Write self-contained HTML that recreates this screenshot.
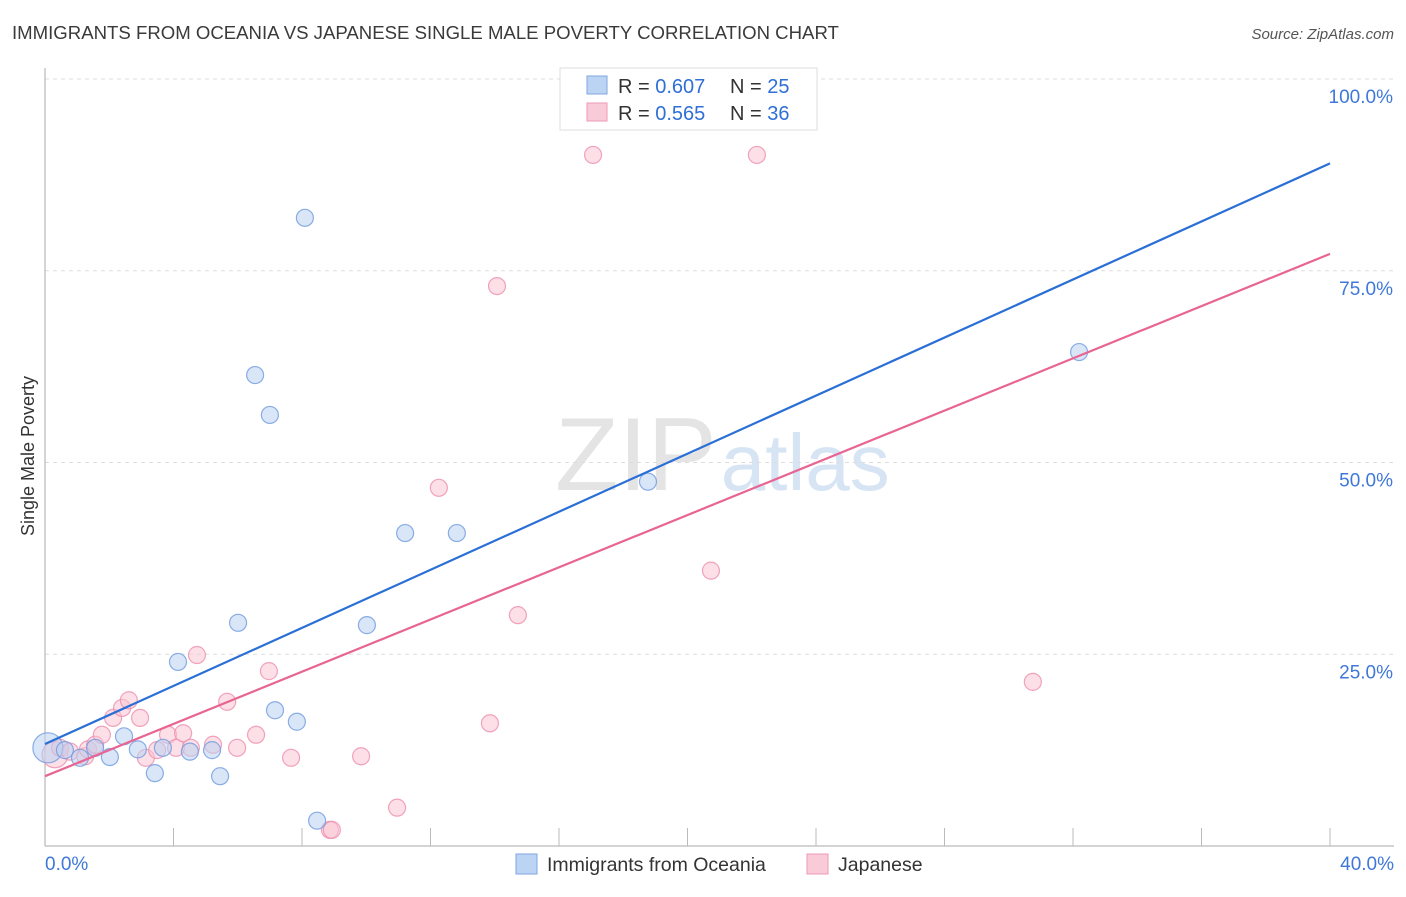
<!DOCTYPE html>
<html><head><meta charset="utf-8"><style>
body{margin:0;background:#fff;font-family:"Liberation Sans",sans-serif;}
svg text{font-family:"Liberation Sans",sans-serif;}
</style></head><body>
<svg id="chart" width="1406" height="892" viewBox="0 0 1406 892">
<text x="12" y="39" font-size="18.6" fill="#3a3a3a">IMMIGRANTS FROM OCEANIA VS JAPANESE SINGLE MALE POVERTY CORRELATION CHART</text>
<text x="1394" y="39" font-size="15" fill="#555" text-anchor="end" font-style="italic">Source: ZipAtlas.com</text>
<text x="555" y="490" font-size="104" fill="#e4e4e4" font-family="Liberation Serif"><tspan>ZIP</tspan><tspan fill="#d6e4f4" font-family="Liberation Sans" font-size="80" dx="4">atlas</tspan></text>
<g id="grid"></g>
<g id="axes"></g>
<g id="marks"></g>
<text transform="translate(34,456) rotate(-90)" font-size="18" fill="#333" text-anchor="middle">Single Male Poverty</text>
<g>
<rect x="560" y="68" width="257" height="62" fill="#fff" stroke="#ddd"/>
<rect x="587" y="76" width="20" height="18" fill="#bcd4f4" stroke="#7fa6e0"/>
<rect x="587" y="103" width="20" height="18" fill="#f9cbd8" stroke="#ee9ab4"/>
<text x="618" y="93" font-size="20" fill="#333">R = <tspan fill="#2f6fd6">0.607</tspan></text>
<text x="730" y="93" font-size="20" fill="#333">N = <tspan fill="#2f6fd6">25</tspan></text>
<text x="618" y="120" font-size="20" fill="#333">R = <tspan fill="#2f6fd6">0.565</tspan></text>
<text x="730" y="120" font-size="20" fill="#333">N = <tspan fill="#2f6fd6">36</tspan></text>
</g>
<g>
<rect x="516" y="854" width="21" height="20" fill="#bcd4f4" stroke="#7fa6e0"/>
<text x="547" y="871" font-size="19.5" fill="#333">Immigrants from Oceania</text>
<rect x="807" y="854" width="21" height="20" fill="#f9cbd8" stroke="#ee9ab4"/>
<text x="838" y="871" font-size="19.5" fill="#333">Japanese</text>
</g>
</svg>
<script>
const blueX=[0.09,0.62,1.09,1.56,2.02,2.46,2.89,3.42,3.67,4.14,4.51,5.20,5.45,6.01,6.54,7.00,7.16,7.84,8.09,8.47,10.02,11.21,12.82,18.77,32.19];
const blueY=[12.8,12.5,11.5,12.8,11.6,14.3,12.6,9.5,12.8,24.0,12.3,12.5,9.1,29.1,61.4,56.2,17.7,16.2,81.9,3.3,28.8,40.8,40.8,47.5,64.4];
const pinkX=[0.31,0.47,0.78,1.25,1.34,1.56,1.77,2.12,2.40,2.61,2.96,3.14,3.49,3.83,4.08,4.30,4.54,4.73,5.23,5.67,5.98,6.57,6.97,7.66,8.87,8.93,9.84,10.96,12.26,13.85,14.07,14.72,17.06,20.73,22.16,30.75];
const pinkY=[11.9,12.8,12.3,11.7,12.6,13.2,14.5,16.7,18.0,19.0,16.7,11.5,12.5,14.5,12.8,14.7,12.8,24.9,13.2,18.8,12.8,14.5,22.8,11.5,2.1,2.1,11.7,5.0,46.7,16.0,73.0,30.1,90.1,35.9,90.1,21.4];
const blueLine=[13.3,89.0];
const pinkLine=[9.1,77.2];
const yTicks=[25,50,75,100];
const yTickLabels=["25.0%","50.0%","75.0%","100.0%"];
const xMax=40;
const NS="http://www.w3.org/2000/svg";
const X0=45,X1=1330,Y0=846,Y1=79;
function sx(v){return X0+(v/xMax)*(X1-X0);}
function sy(v){return Y0-(v/100)*(Y0-Y1);}
function mk(tag,attrs,parent){const e=document.createElementNS(NS,tag);for(const k in attrs)e.setAttribute(k,attrs[k]);parent.appendChild(e);return e;}
const grid=document.getElementById('grid'),axes=document.getElementById('axes'),marks=document.getElementById('marks');
yTicks.forEach((t,i)=>{
 const l=mk('line',{x1:X0,x2:1394,y1:sy(t),y2:sy(t),stroke:'#ddd','stroke-dasharray':'4,4'},grid);
 
 
 const tx=mk('text',{x:1393,y:sy(t)+24,'font-size':19,fill:'#3f78d8','text-anchor':'end'},axes);
 tx.textContent=yTickLabels[i];
 
 
});
const xa=mk('line',{x1:X0,x2:1394,y1:Y0,y2:Y0,stroke:'#aaa'},axes);


const ya=mk('line',{x1:X0,x2:X0,y1:68,y2:Y0,stroke:'#aaa'},axes);


for(let i=1;i<=10;i++){
 const tk=mk('line',{x1:sx(i*4),x2:sx(i*4),y1:Y0-18,y2:Y0,stroke:'#bbb'},axes);
 
 
}
const xl0=mk('text',{x:45,y:870,'font-size':19,fill:'#3f78d8'},axes);xl0.textContent='0.0%';


const xl1=mk('text',{x:1394,y:870,'font-size':19,fill:'#3f78d8','text-anchor':'end'},axes);xl1.textContent='40.0%';


function pts(xs,ys,fill,stroke,name,bigR){
 xs.forEach((x,i)=>{
  const r=(i===0)?bigR:8.5;
  const c=mk('circle',{cx:sx(x),cy:sy(ys[i]),r:r,fill:fill,'fill-opacity':0.55,stroke:stroke,'stroke-opacity':0.8,'stroke-width':1.2},marks);
  
  
 });
}
pts(pinkX,pinkY,'#f9c4d3','#ec8fae','japanese-point',13);
pts(blueX,blueY,'#b9d2f3','#6f9ade','oceania-point',15);
const bl=mk('line',{x1:sx(0),y1:sy(blueLine[0]),x2:sx(xMax),y2:sy(blueLine[1]),stroke:'#2a6fd6','stroke-width':2.2},marks);


const pl=mk('line',{x1:sx(0),y1:sy(pinkLine[0]),x2:sx(xMax),y2:sy(pinkLine[1]),stroke:'#e86592','stroke-width':2.2},marks);


</script>
</body></html>
